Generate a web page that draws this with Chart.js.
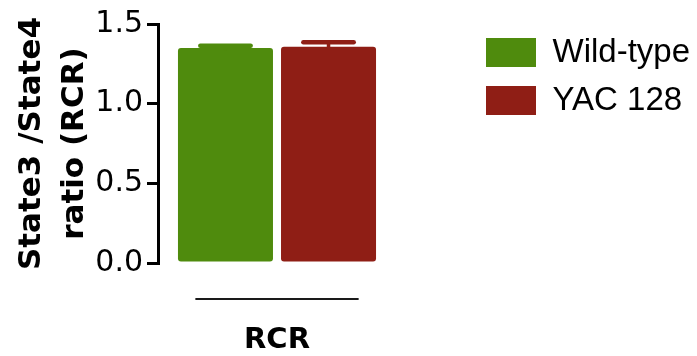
<!DOCTYPE html>
<html>
<head>
<meta charset="utf-8">
<title>RCR</title>
<script src="https://cdn.jsdelivr.net/npm/chart.js@4/dist/chart.umd.min.js"></script>
<style>
  html, body { margin: 0; padding: 0; background: #ffffff; }
  canvas { display: block; }
</style>
</head>
<body>
<canvas id="chart" width="697" height="356"></canvas>
<script>
// Respiratory control ratio (State3 / State4), mean and SEM per genotype
const categories = ['RCR'];
const groups = ['Wild-type', 'YAC 128'];
const wildTypeMean = [1.35];
const wildTypeSem = [0.013];
const yac128Mean = [1.357];
const yac128Sem = [0.028];
const yTicks = [0, 0.5, 1.0, 1.5];
const yTitle = ['State3 /State4', 'ratio (RCR)'];

const GREEN = '#4f8b0d';
const RED = '#8f1e15';

// SEM whiskers above each bar, drawn through the value scale
const semWhiskers = {
  id: 'semWhiskers',
  afterDatasetsDraw(chart) {
    const ctx = chart.ctx;
    const yScale = chart.scales.y;
    chart.data.datasets.forEach((ds, di) => {
      const meta = chart.getDatasetMeta(di);
      meta.data.forEach((bar, i) => {
        const top = yScale.getPixelForValue(ds.data[i] + ds.sem[i]);
        const half = bar.width * 0.265;
        ctx.save();
        ctx.strokeStyle = ds.backgroundColor;
        ctx.lineCap = 'round';
        ctx.lineWidth = 3.5;
        ctx.beginPath();
        ctx.moveTo(bar.x, bar.y + 1);
        ctx.lineTo(bar.x, top);
        ctx.stroke();
        ctx.lineWidth = 4.5;
        ctx.beginPath();
        ctx.moveTo(bar.x - half, top);
        ctx.lineTo(bar.x + half, top);
        ctx.stroke();
        ctx.restore();
      });
    });
  }
};

// Group bracket under the bars of each category
const groupBracket = {
  id: 'groupBracket',
  afterDraw(chart) {
    const ctx = chart.ctx;
    const xs = chart.scales.x;
    const catWidth = xs.width / categories.length;
    categories.forEach((c, i) => {
      const cx = xs.getPixelForValue(i);
      const half = catWidth * 0.343;
      const y = xs.top + 36;
      ctx.save();
      ctx.strokeStyle = '#1a1a1a';
      ctx.lineWidth = 2;
      ctx.beginPath();
      ctx.moveTo(cx - half, y);
      ctx.lineTo(cx + half, y);
      ctx.stroke();
      ctx.restore();
    });
  }
};

// Push the legend out into the right margin
const legendOffset = {
  id: 'legendOffset',
  afterLayout(chart) {
    const lg = chart.legend;
    if (!lg) return;
    const dx = chart.chartArea.right + 75 - lg.left;
    const dy = -3;
    lg.left += dx; lg.right += dx;
    lg.top += dy; lg.bottom += dy;
  }
};

new Chart(document.getElementById('chart'), {
  type: 'bar',
  data: {
    labels: categories,
    datasets: [
      { label: groups[0], data: wildTypeMean, sem: wildTypeSem, backgroundColor: GREEN },
      { label: groups[1], data: yac128Mean, sem: yac128Sem, backgroundColor: RED }
    ]
  },
  options: {
    responsive: false,
    animation: false,
    devicePixelRatio: 1,
    layout: { padding: { left: 0, top: 24, right: 72, bottom: 0 } },
    datasets: {
      bar: {
        categoryPercentage: 0.866,
        barPercentage: 0.922,
        borderRadius: 3,
        borderSkipped: false,
        borderWidth: 0
      }
    },
    plugins: {
      tooltip: { enabled: false },
      legend: {
        position: 'right',
        align: 'start',
        maxWidth: 229,
        labels: {
          boxWidth: 50,
          boxHeight: 29,
          padding: 15,
          color: '#000000',
          font: { family: '"Liberation Sans", Arial, sans-serif', size: 33 }
        }
      }
    },
    scales: {
      x: {
        offset: true,
        grid: { display: false, drawTicks: false, tickLength: 0 },
        border: { display: false },
        ticks: {
          padding: 60,
          color: '#000000',
          font: { family: '"DejaVu Sans", Verdana, sans-serif', size: 29, weight: 'bold' }
        },
        afterFit(scale) { scale.height = 93; }
      },
      y: {
        min: 0,
        max: 1.5,
        afterBuildTicks(scale) { scale.ticks = yTicks.map(v => ({ value: v })); },
        grid: {
          drawOnChartArea: false,
          drawTicks: true,
          tickLength: 11,
          lineWidth: 3,
          color: '#000000'
        },
        border: { display: true, color: '#000000', width: 3 },
        ticks: {
          padding: 4,
          color: '#000000',
          font: { family: '"DejaVu Sans", Verdana, sans-serif', size: 30 },
          callback: (v) => Number(v).toFixed(1)
        },
        title: {
          display: true,
          text: yTitle,
          color: '#000000',
          padding: { top: 10, bottom: 0 },
          font: { family: '"DejaVu Sans", Verdana, sans-serif', size: 31, weight: 'bold', lineHeight: 1.39 }
        },
        afterFit(scale) { scale.width = 158; }
      }
    }
  },
  plugins: [semWhiskers, groupBracket, legendOffset]
});
</script>
</body>
</html>
